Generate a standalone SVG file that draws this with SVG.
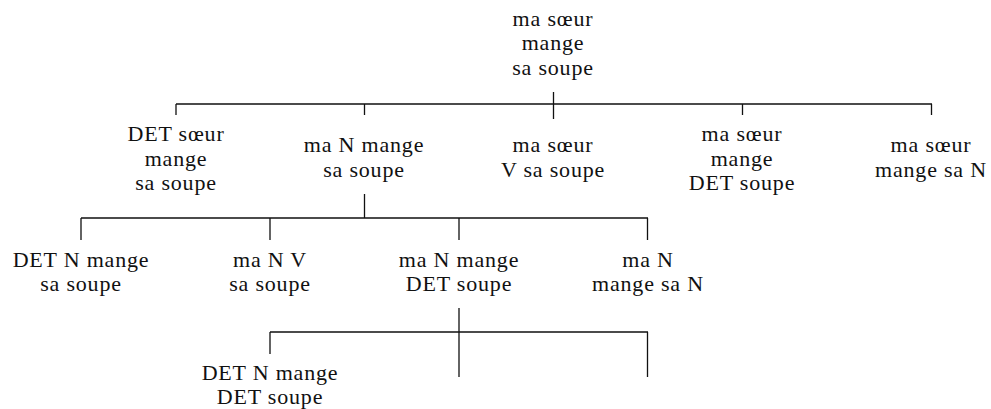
<svg xmlns="http://www.w3.org/2000/svg" width="991" height="409" viewBox="0 0 991 409">
<style>
text{font-family:'Liberation Serif','Times New Roman',serif;font-size:22px;fill:#111;text-anchor:middle;letter-spacing:0.8px}
.e{stroke:#111;stroke-width:1.3;fill:none}
</style>
<rect width="991" height="409" fill="#fff"/>
<g id="connectors">
<path class="e" d="M553.5 92V104M176 104H932M176 104V115M364.5 104V115M553.5 104V119M742.5 104V115M931.5 104V115"/>
<path class="e" d="M364.5 194V218M81 218H648M81 218V240M270 218V240M459 218V240M647.5 218V240"/>
<path class="e" d="M459 308V332M270 332H648M270 332V354M459 332V377M647.5 332V377"/>
</g>
<g id="n0" font-family="Liberation Serif, serif"><text x="553" y="25.5">ma sœur</text><text x="553" y="50">mange</text><text x="553" y="74.5">sa soupe</text></g>
<g id="n1"><text x="176" y="141">DET sœur</text><text x="176" y="165.5">mange</text><text x="176" y="190">sa soupe</text></g>
<g id="n2"><text x="364" y="152">ma N mange</text><text x="364" y="176.5">sa soupe</text></g>
<g id="n3"><text x="553" y="152">ma sœur</text><text x="553" y="176.5">V sa soupe</text></g>
<g id="n4"><text x="742" y="141">ma sœur</text><text x="742" y="165.5">mange</text><text x="742" y="190">DET soupe</text></g>
<g id="n5"><text x="931" y="152">ma sœur</text><text x="931" y="176.5">mange sa N</text></g>
<g id="n6"><text x="81" y="266.5">DET N mange</text><text x="81" y="291">sa soupe</text></g>
<g id="n7"><text x="270" y="266.5">ma N V</text><text x="270" y="291">sa soupe</text></g>
<g id="n8"><text x="459" y="266.5">ma N mange</text><text x="459" y="291">DET soupe</text></g>
<g id="n9"><text x="648" y="266.5">ma N</text><text x="648" y="291">mange sa N</text></g>
<g id="n10"><text x="270" y="380">DET N mange</text><text x="270" y="404">DET soupe</text></g>
</svg>
